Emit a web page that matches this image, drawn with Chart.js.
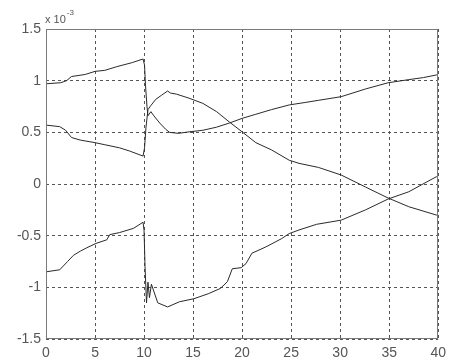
<!DOCTYPE html>
<html>
<head>
<meta charset="utf-8">
<script src="https://cdn.jsdelivr.net/npm/chart.js@4"></script>
<style>
html,body{margin:0;padding:0;background:#fff;}
#wrap{position:relative;width:452px;height:363px;}
</style>
</head>
<body>
<div id="wrap"><canvas id="c" width="452" height="363"></canvas></div>
<script>
// ---- data (values in units of 1e-3) ----
const xTicks = [0, 5, 10, 15, 20, 25, 30, 35, 40];
const yTicks = [-1.5, -1, -0.5, 0, 0.5, 1, 1.5];
const exponentLabel = "x 10";
const exponentPower = "-3";

const s1x = [0, 1.5, 2.1, 2.6, 4, 5, 6, 7.2, 8.8, 9.9, 10.05, 10.15, 10.3, 10.4, 10.7, 11, 11.6, 12.2, 12.6, 13.5, 14.6, 16, 17.4, 18.7, 20, 21.4, 23, 24.8, 26.5, 27.8, 30.1, 32.6, 34.9, 37, 38.5, 39.8, 40];
const s1y = [0.97, 0.98, 1.0, 1.04, 1.06, 1.09, 1.1, 1.135, 1.175, 1.21, 1.15, 0.95, 0.75, 0.66, 0.70, 0.66, 0.59, 0.53, 0.50, 0.49, 0.505, 0.52, 0.55, 0.59, 0.635, 0.675, 0.72, 0.765, 0.79, 0.81, 0.845, 0.92, 0.98, 1.01, 1.03, 1.055, 1.06];

const s2x = [0, 1.4, 2, 2.6, 3.5, 5, 6, 7.5, 8.5, 9.9, 10.05, 10.2, 10.4, 10.7, 11.2, 11.8, 12.4, 12.7, 13.3, 14.6, 16, 17.4, 18.7, 20, 21.4, 23, 24.8, 25.8, 27.8, 30.1, 32.6, 34.9, 37, 39.8, 40];
const s2y = [0.57, 0.555, 0.52, 0.45, 0.425, 0.40, 0.38, 0.35, 0.32, 0.27, 0.35, 0.55, 0.72, 0.76, 0.82, 0.86, 0.90, 0.88, 0.87, 0.83, 0.78, 0.70, 0.60, 0.505, 0.40, 0.33, 0.23, 0.20, 0.16, 0.087, -0.03, -0.136, -0.22, -0.30, -0.30];

const s3x = [0, 1.4, 2.2, 2.8, 3.5, 4.1, 5.1, 6.2, 6.5, 7.5, 8.9, 9.9, 10.0, 10.1, 10.25, 10.4, 10.55, 10.75, 11.4, 12.4, 13.6, 15.1, 16.6, 17.8, 18.5, 19, 19.9, 20.4, 21, 22.4, 24, 24.8, 25.8, 27.6, 30.1, 32.6, 34.9, 37, 39.8, 40];
const s3y = [-0.85, -0.83, -0.75, -0.69, -0.65, -0.62, -0.575, -0.54, -0.49, -0.47, -0.43, -0.37, -0.45, -0.8, -1.15, -0.95, -1.1, -0.97, -1.15, -1.19, -1.14, -1.11, -1.06, -1.01, -0.945, -0.82, -0.81, -0.77, -0.67, -0.61, -0.53, -0.48, -0.445, -0.39, -0.35, -0.25, -0.145, -0.075, 0.07, 0.07];

function pts(xs, ys){ return xs.map((x,i)=>({x:x, y:ys[i]})); }

const lineStyle = {showLine:true, borderColor:'#2a2a2a', borderWidth:1, pointRadius:0, fill:false, tension:0};

const framePlugin = {
  id:'frame',
  afterDraw(chart){
    const ctx = chart.ctx, a = chart.chartArea;
    ctx.save();
    ctx.strokeStyle = '#7a7a7a';
    ctx.lineWidth = 1;
    ctx.strokeRect(Math.round(a.left)+0.5, Math.round(a.top)+0.5, Math.round(a.right-a.left)-1, Math.round(a.bottom-a.top)-1);
    ctx.fillStyle = '#555';
    ctx.textBaseline = 'alphabetic';
    ctx.font = '11px "Liberation Sans", Arial, sans-serif';
    ctx.fillText(exponentLabel, a.left - 1, a.top - 6);
    const w = ctx.measureText(exponentLabel).width;
    ctx.font = '8px "Liberation Sans", Arial, sans-serif';
    ctx.fillText(exponentPower, a.left - 1 + w + 1, a.top - 14);
    ctx.restore();
  }
};

const tickFont = {family:'"Liberation Sans", Arial, sans-serif', size:14};

new Chart(document.getElementById('c'), {
  type:'scatter',
  data:{
    datasets:[
      Object.assign({data:pts(s1x,s1y)}, lineStyle),
      Object.assign({data:pts(s2x,s2y)}, lineStyle),
      Object.assign({data:pts(s3x,s3y)}, lineStyle)
    ]
  },
  options:{
    responsive:false,
    animation:false,
    events:[],
    layout:{padding:{left:0, top:29, right:12, bottom:0}},
    plugins:{legend:{display:false}, tooltip:{enabled:false}},
    scales:{
      x:{
        type:'linear', min:0, max:40,
        afterBuildTicks(s){ s.ticks = xTicks.map(v=>({value:v})); },
        afterFit(s){ s.height = 24; },
        grid:{color:'#555', lineWidth:1, drawTicks:false},
        border:{display:false, dash:[3,3]},
        ticks:{color:'#555', padding:6, maxRotation:0, font:tickFont, callback:v=>String(v)}
      },
      y:{
        type:'linear', min:-1.5, max:1.5,
        afterBuildTicks(s){ s.ticks = yTicks.map(v=>({value:v})); },
        afterFit(s){ s.width = 46; },
        grid:{color:'#555', lineWidth:1, drawTicks:false},
        border:{display:false, dash:[3,3]},
        ticks:{color:'#555', padding:5, font:tickFont, callback:v=>String(v)}
      }
    }
  },
  plugins:[framePlugin]
});
</script>
</body>
</html>
